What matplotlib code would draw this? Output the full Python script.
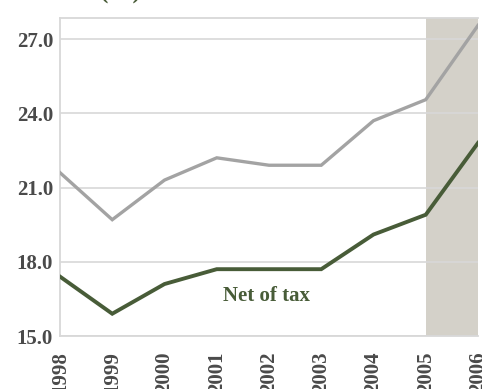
import matplotlib
matplotlib.use("Agg")
import matplotlib.pyplot as plt

# Income share by year, gross and net of tax
years = [1998, 1999, 2000, 2001, 2002, 2003, 2004, 2005, 2006]
gross = [21.6, 19.7, 21.3, 22.2, 21.9, 21.9, 23.7, 24.55, 27.55]
net_of_tax = [17.4, 15.9, 17.1, 17.7, 17.7, 17.7, 19.1, 19.9, 22.8]
y_ticks = [15.0, 18.0, 21.0, 24.0, 27.0]
shade_span = (2005, 2006)

GRAY = "#a3a3a3"
GREEN = "#485c38"
TEXT = "#4a4a4a"
GRID = "#d8d8d8"
SHADE = "#d4d1c9"

plt.rcParams["font.family"] = ["Liberation Serif", "DejaVu Serif"]

fig = plt.figure(figsize=(4.82, 3.89), dpi=100)
ax = fig.add_axes([60 / 482, 1 - 336 / 389, 418 / 482, 318 / 389])

ax.axvspan(*shade_span, color=SHADE, zorder=0, lw=0)
ax.plot(years, gross, color=GRAY, lw=2.4, zorder=3, solid_joinstyle="miter")
ax.plot(years, net_of_tax, color=GREEN, lw=2.8, zorder=3, solid_joinstyle="miter")

ax.text(2001.95, 16.6, "Net of tax", color=GREEN, fontsize=15,
        fontweight="bold", ha="center", va="center")

ax.set_xlim(1998, 2006)
ax.set_ylim(15.0, 27.85)
ax.set_yticks(y_ticks)
ax.set_yticklabels([f"{v:.1f}" for v in y_ticks])
ax.set_xticks(years)
ax.set_xticklabels([str(y) for y in years], rotation=90)

ax.grid(axis="y", color=GRID, lw=1.2, zorder=1)
ax.set_axisbelow(True)
ax.tick_params(length=0, labelsize=15, colors=TEXT)
ax.tick_params(axis="y", pad=5)
ax.tick_params(axis="x", pad=11)
for lbl in ax.get_xticklabels() + ax.get_yticklabels():
    lbl.set_fontweight("bold")

for side in ["left", "bottom", "top"]:
    ax.spines[side].set_color(GRID)
    ax.spines[side].set_linewidth(1.3)
ax.spines["right"].set_visible(False)

# axis title sits above the top edge, only its lower part shows
title_y = 1 + 1.5 / 389
fig.text(0.0, title_y, "Income", color=TEXT, fontsize=18,
         fontweight="bold", ha="left", va="baseline")
fig.text(100 / 482, title_y, "(%)", color=GREEN, fontsize=18,
         fontweight="bold", ha="left", va="baseline")

fig.savefig("out.png", dpi=100)
